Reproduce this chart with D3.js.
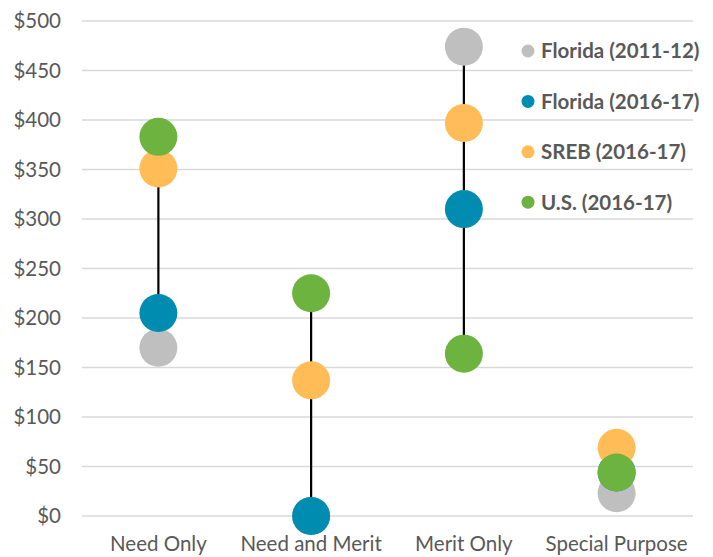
<!DOCTYPE html>
<html>
<head>
<meta charset="utf-8">
<script src="https://cdn.jsdelivr.net/npm/d3@7"></script>
<style>
  body { margin: 0; background: #fff; }
  svg { display: block; font-family: Lato, "Liberation Sans", sans-serif; }
</style>
</head>
<body>
<svg id="chart" width="713" height="557"></svg>
<script>
var categories = ["Need Only", "Need and Merit", "Merit Only", "Special Purpose"];
var seriesNames = ["Florida (2011-12)", "Florida (2016-17)", "SREB (2016-17)", "U.S. (2016-17)"];
var colors = ["#BFBFBF", "#008BB0", "#FFBC57", "#6CB33F"];
var florida1112 = [170, 0, 474, 23];
var florida1617 = [205, 0, 310, 44];
var sreb1617 = [351, 137, 397, 69];
var us1617 = [383, 225, 164, 44];
var yTicks = [0, 50, 100, 150, 200, 250, 300, 350, 400, 450, 500];

var series = [florida1112, florida1617, sreb1617, us1617];

var svg = d3.select("#chart");
var plotLeft = 82, plotRight = 693, plotTop = 21, plotBottom = 516;

var x = d3.scaleBand().domain(categories).range([plotLeft, plotRight]);
var y = d3.scaleLinear().domain([0, 500]).range([plotBottom, plotTop]);

// gridlines
svg.append("g").selectAll("line")
    .data(yTicks)
    .enter()
    .append("line")
    .attr("x1", plotLeft).attr("x2", plotRight)
    .attr("y1", function(d){ return y(d) }).attr("y2", function(d){ return y(d) })
    .attr("stroke", "#D9D9D9")
    .attr("stroke-width", 1.3);

// y axis labels
var yAxis = d3.axisLeft(y).tickValues(yTicks).tickSize(0).tickPadding(21)
    .tickFormat(function(d){ return "$" + d });
svg.append("g")
    .attr("transform", "translate(" + plotLeft + ",0)")
    .call(yAxis)
    .call(function(g){ g.select(".domain").remove() })
    .selectAll("text")
    .attr("fill", "#595959")
    .style("font-size", "20.5px")
    .style("font-family", "Lato, 'Liberation Sans', sans-serif");

// x axis labels
var xAxis = d3.axisBottom(x).tickSize(0).tickPadding(20);
svg.append("g")
    .attr("transform", "translate(0," + plotBottom + ")")
    .call(xAxis)
    .call(function(g){ g.select(".domain").remove() })
    .selectAll("text")
    .attr("fill", "#595959")
    .style("font-size", "20.5px")
    .style("font-family", "Lato, 'Liberation Sans', sans-serif");

// high-low lines
var cx = function(c){ return x(c) + x.bandwidth() / 2 };
svg.append("g").selectAll("line")
    .data(categories)
    .enter()
    .append("line")
    .attr("x1", cx).attr("x2", cx)
    .attr("y1", function(c, i){ return y(d3.max(series, function(s){ return s[i] })) })
    .attr("y2", function(c, i){ return y(d3.min(series, function(s){ return s[i] })) })
    .attr("stroke", "#000")
    .attr("stroke-width", 2.2);

// circles
series.forEach(function(s, k) {
    svg.append("g").selectAll("circle")
        .data(s)
        .enter()
        .append("circle")
        .attr("cx", function(d, i){ return cx(categories[i]) })
        .attr("cy", function(d){ return y(d) })
        .attr("r", 19)
        .attr("fill", colors[k]);
});

// legend
var legend = svg.append("g").selectAll("g")
    .data(seriesNames)
    .enter()
    .append("g")
    .attr("transform", function(d, i){ return "translate(528," + (51 + i * 50.4) + ")" });
legend.append("circle")
    .attr("r", 6.5)
    .attr("fill", function(d, i){ return colors[i] });
legend.append("text")
    .attr("x", 13)
    .attr("dy", "0.36em")
    .attr("fill", "#595959")
    .style("font-size", "20.5px")
    .style("font-weight", "bold")
    .text(function(d){ return d });
</script>
</body>
</html>
